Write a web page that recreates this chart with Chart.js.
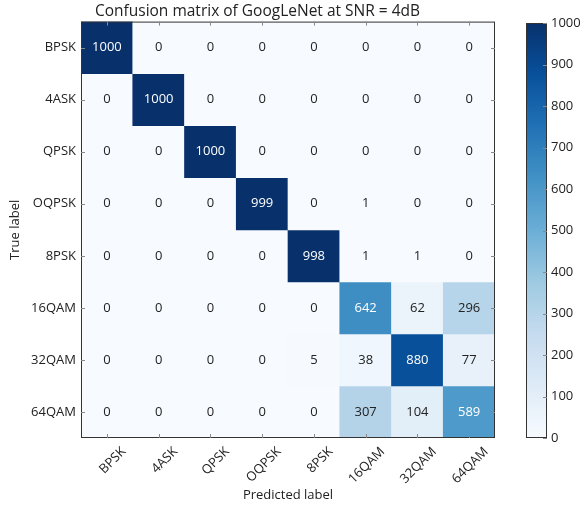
<!DOCTYPE html>
<html>
<head>
<meta charset="utf-8">
<script src="https://cdn.jsdelivr.net/npm/chart.js@4.4.0/dist/chart.umd.min.js"></script>
<style>
  body { margin: 0; background: #fff; }
  #wrap { position: relative; width: 585px; height: 508px; }
  #matrixBox { position: absolute; left: 0; top: 0; width: 505px; height: 508px; }
  #barBox { position: absolute; left: 505px; top: 0; width: 80px; height: 508px; }
</style>
</head>
<body>
<div id="wrap">
  <div id="matrixBox"><canvas id="matrixChart"></canvas></div>
  <div id="barBox"><canvas id="colorBar"></canvas></div>
</div>
<script>
// Class names (same order on both axes)
const trueLabels = ["BPSK", "4ASK", "QPSK", "OQPSK", "8PSK", "16QAM", "32QAM", "64QAM"];
const predictedLabels = ["BPSK", "4ASK", "QPSK", "OQPSK", "8PSK", "16QAM", "32QAM", "64QAM"];

// One row per true label, counts per predicted label
const rowBPSK  = [1000, 0, 0, 0, 0, 0, 0, 0];
const row4ASK  = [0, 1000, 0, 0, 0, 0, 0, 0];
const rowQPSK  = [0, 0, 1000, 0, 0, 0, 0, 0];
const rowOQPSK = [0, 0, 0, 999, 0, 1, 0, 0];
const row8PSK  = [0, 0, 0, 0, 998, 1, 1, 0];
const row16QAM = [0, 0, 0, 0, 0, 642, 62, 296];
const row32QAM = [0, 0, 0, 0, 5, 38, 880, 77];
const row64QAM = [0, 0, 0, 0, 0, 307, 104, 589];
const matrixRows = [rowBPSK, row4ASK, rowQPSK, rowOQPSK, row8PSK, row16QAM, row32QAM, row64QAM];

// Colorbar range and ticks
const colorMin = 0;
const colorMax = 1000;
const colorbarTicks = [0, 100, 200, 300, 400, 500, 600, 700, 800, 900, 1000];

const FONT = "'Open Sans', 'DejaVu Sans', sans-serif";
Chart.defaults.font.family = FONT;
Chart.defaults.font.size = 13;
Chart.defaults.color = "#222";

// matplotlib "Blues"
const bluesStops = [
  [247, 251, 255], [222, 235, 247], [198, 219, 239], [158, 202, 225], [107, 174, 214],
  [66, 146, 198], [33, 113, 181], [8, 81, 156], [8, 48, 107]
];
function blues(t) {
  t = Math.min(1, Math.max(0, t));
  const pos = t * (bluesStops.length - 1);
  const i = Math.min(Math.floor(pos), bluesStops.length - 2);
  const f = pos - i;
  const a = bluesStops[i], b = bluesStops[i + 1];
  const c = a.map((v, k) => Math.round(v + (b[k] - v) * f));
  return `rgb(${c[0]}, ${c[1]}, ${c[2]})`;
}

// Numbers inside the cells
const cellTextPlugin = {
  id: "cellText",
  afterDatasetsDraw(chart) {
    const ctx = chart.ctx;
    const xs = chart.scales.x, ys = chart.scales.y;
    ctx.save();
    ctx.font = "13px " + FONT;
    ctx.textAlign = "center";
    ctx.textBaseline = "middle";
    matrixRows.forEach((row, i) => {
      row.forEach((v, j) => {
        ctx.fillStyle = v > colorMax / 2 ? "#ffffff" : "#222222";
        ctx.fillText(String(v), xs.getPixelForValue(j), ys.getPixelForValue(i));
      });
    });
    ctx.restore();
  }
};

// Axes frame with small inward ticks
const framePlugin = {
  id: "frame",
  afterDraw(chart) {
    const { ctx, chartArea: a } = chart;
    ctx.save();
    ctx.strokeStyle = "#333";
    ctx.lineWidth = 1;
    ctx.strokeRect(a.left + 0.5, a.top + 0.5, a.right - a.left - 1, a.bottom - a.top - 1);
    ctx.strokeStyle = "#888";
    ctx.beginPath();
    if (chart.canvas.id === "matrixChart") {
      predictedLabels.forEach((_, j) => {
        const x = Math.round(chart.scales.x.getPixelForValue(j)) + 0.5;
        ctx.moveTo(x, a.bottom); ctx.lineTo(x, a.bottom - 4);
        ctx.moveTo(x, a.top); ctx.lineTo(x, a.top + 4);
      });
      trueLabels.forEach((_, i) => {
        const y = Math.round(chart.scales.y.getPixelForValue(i)) + 0.5;
        ctx.moveTo(a.left, y); ctx.lineTo(a.left + 4, y);
        ctx.moveTo(a.right, y); ctx.lineTo(a.right - 4, y);
      });
    } else {
      colorbarTicks.forEach((v) => {
        const y = Math.round(chart.scales.y.getPixelForValue(v)) + 0.5;
        ctx.moveTo(a.right, y); ctx.lineTo(a.right - 4, y);
      });
    }
    ctx.stroke();
    ctx.restore();
  }
};

// Each true-label row is a set of floating bars spanning one cell in y
const matrixDatasets = matrixRows.map((row, i) => ({
  label: trueLabels[i],
  data: row.map(() => [i - 0.5, i + 0.5]),
  backgroundColor: row.map((v) => blues((v - colorMin) / (colorMax - colorMin))),
  borderWidth: 0,
  grouped: false,
  barPercentage: 1,
  categoryPercentage: 1
}));

new Chart(document.getElementById("matrixChart"), {
  type: "bar",
  data: { labels: predictedLabels, datasets: matrixDatasets },
  options: {
    responsive: true,
    maintainAspectRatio: false,
    animation: false,
    layout: { padding: { left: 20, right: 10, top: 0, bottom: 0 } },
    plugins: {
      legend: { display: false },
      tooltip: { enabled: false },
      title: {
        display: true,
        text: "Confusion matrix of GoogLeNet at SNR = 4dB",
        font: { size: 15.5, weight: "normal" },
        color: "#222",
        padding: { top: 2, bottom: 1 }
      }
    },
    scales: {
      x: {
        grid: { display: false, drawTicks: false },
        border: { display: false },
        ticks: { minRotation: 45, maxRotation: 45, labelOffset: 17, padding: 6 },
        title: { display: true, text: "Predicted label", padding: { top: 0, bottom: 5 } },
        afterFit: (scale) => { scale.height = 70; }
      },
      y: {
        type: "linear",
        reverse: true,
        min: -0.5,
        max: trueLabels.length - 0.5,
        grid: { display: false, drawTicks: false },
        border: { display: false },
        afterBuildTicks: (scale) => { scale.ticks = trueLabels.map((_, i) => ({ value: i })); },
        ticks: { padding: 5, callback: (v) => trueLabels[v] },
        title: { display: true, text: "True label", padding: { top: -13, bottom: 0 } },
        afterFit: (scale) => { scale.width = 61; }
      }
    }
  },
  plugins: [cellTextPlugin, framePlugin]
});

// Colorbar: one floating bar from colorMin to colorMax with a Blues gradient
new Chart(document.getElementById("colorBar"), {
  type: "bar",
  data: {
    labels: [""],
    datasets: [{
      data: [[colorMin, colorMax]],
      backgroundColor: (c) => {
        const area = c.chart.chartArea;
        if (!area) return blues(0.5);
        const g = c.chart.ctx.createLinearGradient(0, area.bottom, 0, area.top);
        for (let k = 0; k <= 16; k++) g.addColorStop(k / 16, blues(k / 16));
        return g;
      },
      borderWidth: 0,
      barPercentage: 1,
      categoryPercentage: 1
    }]
  },
  options: {
    responsive: true,
    maintainAspectRatio: false,
    animation: false,
    layout: { padding: { left: 21, right: 0, top: 23, bottom: 70 } },
    plugins: { legend: { display: false }, tooltip: { enabled: false } },
    scales: {
      x: { display: false },
      y: {
        position: "right",
        min: colorMin,
        max: colorMax,
        grid: { display: false, drawTicks: false },
        border: { display: false },
        afterBuildTicks: (scale) => { scale.ticks = colorbarTicks.map((v) => ({ value: v })); },
        ticks: { padding: 4, callback: (v) => String(v) },
        afterFit: (scale) => { scale.width = 38; }
      }
    }
  },
  plugins: [framePlugin]
});
</script>
</body>
</html>
